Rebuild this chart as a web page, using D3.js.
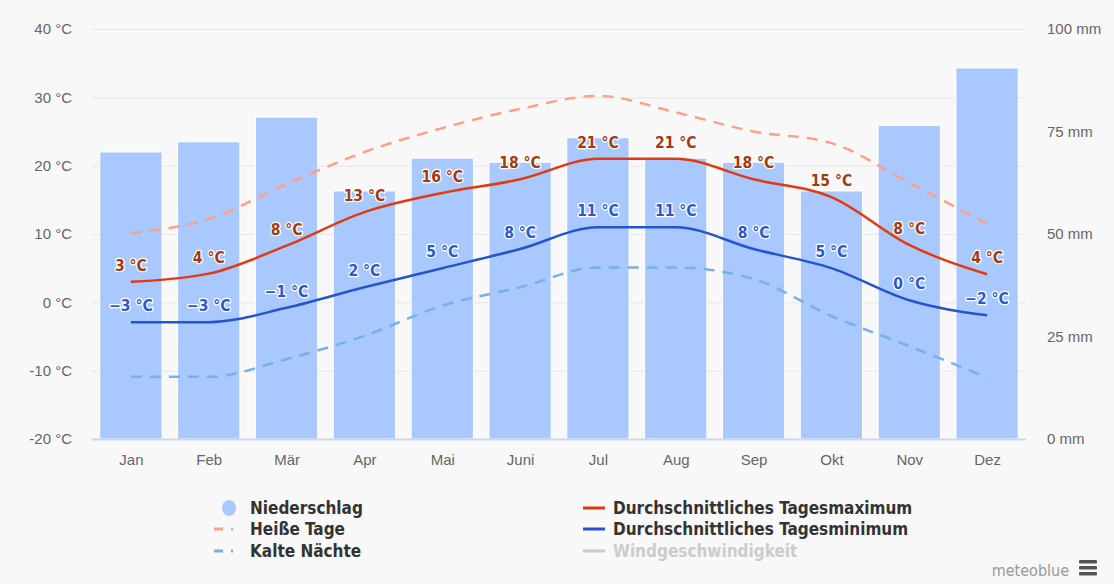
<!DOCTYPE html>
<html>
<head>
<meta charset="utf-8">
<script src="https://cdn.jsdelivr.net/npm/d3@7"></script>
<style>
  html, body { margin: 0; padding: 0; background: #f8f8f8; }
  svg { display: block; font-family: "DejaVu Sans Condensed", "DejaVu Sans", sans-serif; }
  .tick text { fill: #666; font-size: 15px; }
</style>
</head>
<body>
<svg id="chart" width="1114" height="584"></svg>
<script>
// monthly climate values
var months = ['Jan', 'Feb', 'Mär', 'Apr', 'Mai', 'Juni', 'Jul', 'Aug', 'Sep', 'Okt', 'Nov', 'Dez'];
var precip = [70, 72.5, 78.5, 60.5, 68.5, 67.5, 73.5, 68.5, 67.5, 60.5, 76.5, 90.5];
var tMax = [3, 4.2, 8.3, 13.2, 16, 18, 21, 21, 18, 15.4, 8.4, 4.1];
var tMin = [-2.9, -2.9, -0.8, 2.2, 5, 7.8, 11, 11, 7.8, 5, 0.3, -1.9];
var hotDays = [10.1, 12.2, 17.3, 22, 25.5, 28.3, 30.2, 27.8, 25, 23.3, 17.5, 11.5];
var coldNights = [-10.9, -10.9, -8.3, -4.9, -0.5, 2.2, 5.1, 5.1, 3.4, -2, -6.4, -11];
var tempTicks = [-20, -10, 0, 10, 20, 30, 40];
var precipTicks = [0, 25, 50, 75, 100];
var legendNames = ['Niederschlag', 'Heiße Tage', 'Kalte Nächte',
  'Durchschnittliches Tagesmaximum', 'Durchschnittliches Tagesminimum', 'Windgeschwindigkeit'];

var svg = d3.select('#chart');
var plotL = 92, plotR = 1026, plotT = 29, plotB = 439;

var x = d3.scalePoint().domain(months).range([plotL, plotR]).padding(0.5);
var barW = x.step() * 0.8;
var yT = d3.scaleLinear().domain([-20, 40]).range([plotB, plotT]);
var yP = d3.scaleLinear().domain([0, 100]).range([plotB, plotT]);

// grid
svg.append('g').selectAll('line')
  .data(tempTicks.slice(1))
  .join('line')
  .attr('x1', plotL).attr('x2', plotR)
  .attr('y1', function(d) { return yT(d) + 0.5; })
  .attr('y2', function(d) { return yT(d) + 0.5; })
  .attr('stroke', '#e6e6e6');

// axes
var axL = svg.append('g').attr('transform', 'translate(' + (plotL - 20) + ',0)')
  .call(d3.axisLeft(yT).tickValues(tempTicks).tickSize(0).tickPadding(0)
    .tickFormat(function(d) { return d + ' °C'; }));
var axR = svg.append('g').attr('transform', 'translate(' + (plotR + 21) + ',0)')
  .call(d3.axisRight(yP).tickValues(precipTicks).tickSize(0).tickPadding(0)
    .tickFormat(function(d) { return d + ' mm'; }));
var axB = svg.append('g').attr('transform', 'translate(0,' + (plotB + 15) + ')')
  .call(d3.axisBottom(x).tickSize(0).tickPadding(0));
[axL, axR, axB].forEach(function(a) {
  a.select('.domain').remove();
  a.selectAll('text').attr('font-family', null).attr('font-size', null);
});

// precipitation bars
svg.append('g').selectAll('rect')
  .data(precip)
  .join('rect')
  .attr('x', function(d, i) { return x(months[i]) - barW / 2; })
  .attr('y', function(d) { return yP(d); })
  .attr('width', barW)
  .attr('height', function(d) { return yP(0) - yP(d); })
  .attr('fill', '#a8c8fe')
  .attr('stroke', '#ffffff')
  .attr('stroke-width', 1);

// x axis line
svg.append('line')
  .attr('x1', plotL).attr('x2', plotR)
  .attr('y1', plotB + 0.5).attr('y2', plotB + 0.5)
  .attr('stroke', '#ccd6eb').attr('stroke-width', 2);

var line = d3.line()
  .x(function(d, i) { return x(months[i]); })
  .y(function(d) { return yT(d); })
  .curve(d3.curveMonotoneX);

function drawLine(data, color, dash) {
  svg.append('path')
    .datum(data)
    .attr('d', line)
    .attr('fill', 'none')
    .attr('stroke', color)
    .attr('stroke-width', 2.5)
    .attr('stroke-dasharray', dash || null);
}
drawLine(hotDays, '#ff9f88', '11,8');
drawLine(coldNights, '#78b0e8', '11,8');
drawLine(tMax, '#e23a10');
drawLine(tMin, '#2454d0');

function fmt(v) {
  var r = Math.round(v);
  return (r < 0 ? '\u2212' + (-r) : r) + ' °C';
}

function drawLabels(data, color) {
  svg.append('g').selectAll('text')
    .data(data)
    .join('text')
    .attr('x', function(d, i) { return x(months[i]); })
    .attr('y', function(d) { return yT(d) - 11; })
    .attr('text-anchor', 'middle')
    .attr('font-size', 15.5)
    .attr('font-weight', 'bold')
    .attr('fill', color)
    .attr('stroke', '#ffffff')
    .attr('stroke-width', 2.5)
    .attr('stroke-linejoin', 'round')
    .attr('paint-order', 'stroke')
    .text(fmt);
}
drawLabels(tMax, '#a33a12');
drawLabels(tMin, '#2c58cf');

// legend
var legend = svg.append('g').attr('font-size', 17).attr('font-weight', 'bold');
var items = [
  { name: legendNames[0], x: 214, y: 508, type: 'dot', color: '#a8c8fe' },
  { name: legendNames[1], x: 214, y: 529, type: 'dash', color: '#ff9f88' },
  { name: legendNames[2], x: 214, y: 551, type: 'dash', color: '#78b0e8' },
  { name: legendNames[3], x: 583, y: 508, type: 'line', color: '#e23a10' },
  { name: legendNames[4], x: 583, y: 529, type: 'line', color: '#2454d0' },
  { name: legendNames[5], x: 583, y: 551, type: 'line', color: '#cccccc', hidden: true }
];
items.forEach(function(it) {
  var g = legend.append('g').attr('transform', 'translate(' + it.x + ',' + it.y + ')');
  var tx = it.type === 'line' ? 30 : 36;
  if (it.type === 'dot') {
    g.append('ellipse').attr('cx', 15).attr('cy', 0).attr('rx', 7).attr('ry', 8).attr('fill', it.color);
  } else if (it.type === 'dash') {
    g.append('line').attr('x1', 0).attr('x2', 9).attr('y1', 0).attr('y2', 0)
      .attr('stroke', it.color).attr('stroke-width', 3);
    g.append('line').attr('x1', 17).attr('x2', 19).attr('y1', 0).attr('y2', 0)
      .attr('stroke', it.color).attr('stroke-width', 3);
  } else {
    g.append('line').attr('x1', 0).attr('x2', 22).attr('y1', 0).attr('y2', 0)
      .attr('stroke', it.color).attr('stroke-width', 3);
  }
  g.append('text').attr('x', tx).attr('y', 6)
    .attr('fill', it.hidden ? '#cccccc' : '#333333')
    .text(it.name);
});

// credits and menu
svg.append('text').attr('x', 1069).attr('y', 576)
  .attr('text-anchor', 'end').attr('font-size', 16).attr('fill', '#999')
  .text('meteoblue');
var menu = svg.append('g').attr('transform', 'translate(1079,560)');
[0, 6, 12].forEach(function(d) {
  menu.append('rect').attr('x', 0).attr('y', d).attr('width', 18).attr('height', 3.5)
    .attr('rx', 1).attr('fill', '#555');
});
</script>
</body>
</html>
